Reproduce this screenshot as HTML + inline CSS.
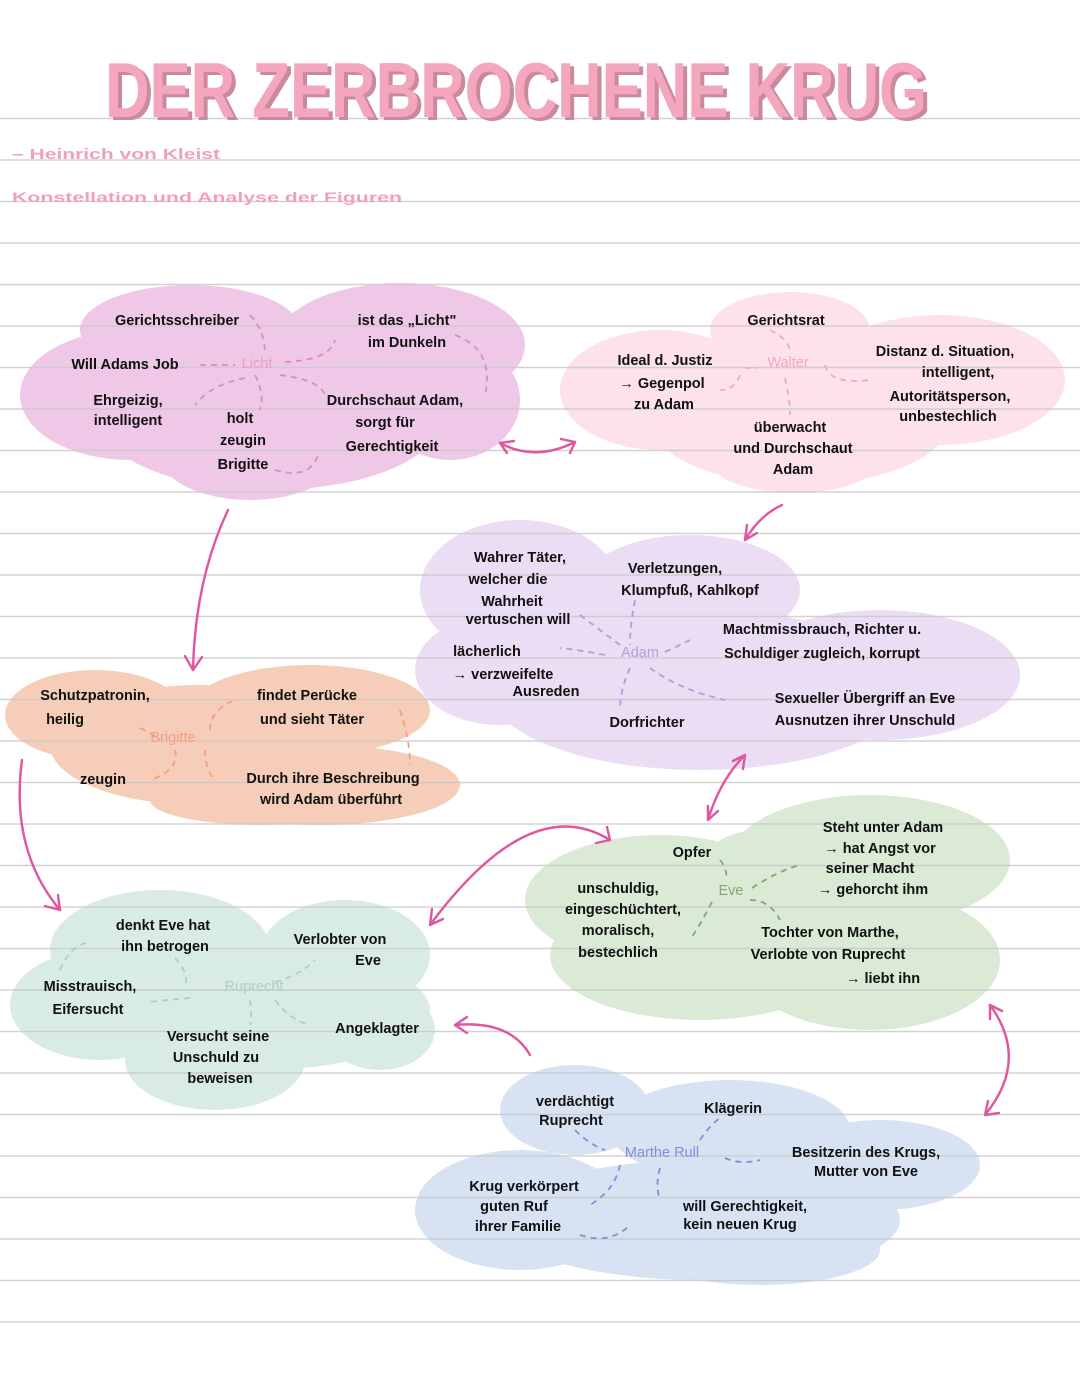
<!DOCTYPE html>
<html><head><meta charset="utf-8"><style>
html,body{margin:0;padding:0;background:#fff}
svg{display:block}
text{font-family:"Liberation Sans",sans-serif;font-size:14.5px;font-weight:bold;fill:#111;text-anchor:middle}
.k{font-weight:bold;font-size:14.5px}
</style></head><body>
<svg width="1080" height="1395" viewBox="0 0 1080 1395" xmlns="http://www.w3.org/2000/svg">
<g fill="#efc8e8">
<ellipse cx="190" cy="330" rx="110" ry="45"/><ellipse cx="400" cy="345" rx="125" ry="62"/>
<ellipse cx="130" cy="395" rx="110" ry="65"/><ellipse cx="270" cy="420" rx="170" ry="70"/>
<ellipse cx="250" cy="455" rx="90" ry="45"/><ellipse cx="450" cy="400" rx="70" ry="60"/>
</g>
<g fill="#fde2ec">
<ellipse cx="790" cy="330" rx="80" ry="38"/><ellipse cx="660" cy="390" rx="100" ry="60"/>
<ellipse cx="940" cy="380" rx="125" ry="65"/><ellipse cx="800" cy="420" rx="150" ry="65"/>
<ellipse cx="795" cy="455" rx="90" ry="38"/>
</g>
<g fill="#ebddf3">
<ellipse cx="520" cy="590" rx="100" ry="70"/><ellipse cx="690" cy="590" rx="110" ry="55"/>
<ellipse cx="500" cy="670" rx="85" ry="55"/><ellipse cx="700" cy="690" rx="210" ry="80"/>
<ellipse cx="880" cy="675" rx="140" ry="65"/><ellipse cx="650" cy="720" rx="110" ry="45"/>
</g>
<g fill="#f6cdb8">
<ellipse cx="95" cy="715" rx="90" ry="45"/><ellipse cx="310" cy="710" rx="120" ry="45"/>
<ellipse cx="200" cy="745" rx="150" ry="60"/><ellipse cx="320" cy="785" rx="140" ry="40"/>
<ellipse cx="260" cy="800" rx="110" ry="25"/>
</g>
<g fill="#d9ece4">
<ellipse cx="160" cy="950" rx="110" ry="60"/><ellipse cx="345" cy="955" rx="85" ry="55"/>
<ellipse cx="100" cy="1005" rx="90" ry="55"/><ellipse cx="260" cy="1010" rx="170" ry="60"/>
<ellipse cx="215" cy="1060" rx="90" ry="50"/><ellipse cx="380" cy="1030" rx="55" ry="40"/>
</g>
<g fill="#dbead5">
<ellipse cx="660" cy="900" rx="135" ry="65"/><ellipse cx="870" cy="860" rx="140" ry="65"/>
<ellipse cx="700" cy="955" rx="150" ry="65"/><ellipse cx="870" cy="960" rx="130" ry="70"/>
<ellipse cx="760" cy="870" rx="60" ry="40"/>
</g>
<g fill="#d7e2f3">
<ellipse cx="575" cy="1110" rx="75" ry="45"/><ellipse cx="730" cy="1130" rx="120" ry="50"/>
<ellipse cx="880" cy="1165" rx="100" ry="45"/><ellipse cx="520" cy="1210" rx="105" ry="60"/>
<ellipse cx="700" cy="1220" rx="200" ry="60"/><ellipse cx="760" cy="1250" rx="120" ry="35"/>
</g>
<g stroke="#c8c8c8" stroke-width="1.6" opacity="0.8">
<line x1="0" y1="118.5" x2="1080" y2="118.5"/><line x1="0" y1="160" x2="1080" y2="160"/>
<line x1="0" y1="201.5" x2="1080" y2="201.5"/><line x1="0" y1="243" x2="1080" y2="243"/>
<line x1="0" y1="284.5" x2="1080" y2="284.5"/><line x1="0" y1="326" x2="1080" y2="326"/>
<line x1="0" y1="367.5" x2="1080" y2="367.5"/><line x1="0" y1="409" x2="1080" y2="409"/>
<line x1="0" y1="450.5" x2="1080" y2="450.5"/><line x1="0" y1="492" x2="1080" y2="492"/>
<line x1="0" y1="533.5" x2="1080" y2="533.5"/><line x1="0" y1="575" x2="1080" y2="575"/>
<line x1="0" y1="616.5" x2="1080" y2="616.5"/><line x1="0" y1="658" x2="1080" y2="658"/>
<line x1="0" y1="699.5" x2="1080" y2="699.5"/><line x1="0" y1="741" x2="1080" y2="741"/>
<line x1="0" y1="782.5" x2="1080" y2="782.5"/><line x1="0" y1="824" x2="1080" y2="824"/>
<line x1="0" y1="865.5" x2="1080" y2="865.5"/><line x1="0" y1="907" x2="1080" y2="907"/>
<line x1="0" y1="948.5" x2="1080" y2="948.5"/><line x1="0" y1="990" x2="1080" y2="990"/>
<line x1="0" y1="1031.5" x2="1080" y2="1031.5"/><line x1="0" y1="1073" x2="1080" y2="1073"/>
<line x1="0" y1="1114.5" x2="1080" y2="1114.5"/><line x1="0" y1="1156" x2="1080" y2="1156"/>
<line x1="0" y1="1197.5" x2="1080" y2="1197.5"/><line x1="0" y1="1239" x2="1080" y2="1239"/>
<line x1="0" y1="1280.5" x2="1080" y2="1280.5"/><line x1="0" y1="1322" x2="1080" y2="1322"/>
</g>
<!-- title -->
<text x="109" y="120" textLength="822" lengthAdjust="spacingAndGlyphs" style="text-anchor:start;font-size:78px;fill:#c98a9e;font-weight:bold">DER ZERBROCHENE KRUG</text>
<text x="105" y="117" textLength="822" lengthAdjust="spacingAndGlyphs" style="text-anchor:start;font-size:78px;fill:#f4a6bd;font-weight:bold">DER ZERBROCHENE KRUG</text>
<text x="12" y="159" textLength="208" lengthAdjust="spacingAndGlyphs" style="text-anchor:start;fill:#f2a0b8;font-size:15px;font-weight:bold">– Heinrich von Kleist</text>
<text x="12" y="202" textLength="390" lengthAdjust="spacingAndGlyphs" style="text-anchor:start;fill:#f2a0b8;font-size:14px;font-weight:bold">Konstellation und Analyse der Figuren</text>
<g fill="none" stroke-width="1.8" stroke-dasharray="6 5">
<path d="M250 315 Q265 330 265 355 M200 365 L235 365 M285 362 Q330 360 335 340 M455 335 Q495 350 485 395 M245 378 Q210 385 195 405 M255 375 Q265 395 260 410 M275 470 Q310 480 318 455 M280 375 Q320 380 325 395" stroke="#d98cc0"/>
<path d="M770 330 Q790 340 790 352 M745 368 L758 368 M825 365 Q830 385 870 380 M740 375 Q735 390 720 390 M785 378 Q790 400 790 415" stroke="#f2a8c4"/>
<path d="M580 615 Q600 630 620 645 M635 600 Q630 625 630 645 M605 655 Q580 650 560 648 M665 652 Q680 645 690 640 M630 668 Q620 690 620 710 M650 668 Q680 690 725 700" stroke="#b89ad8"/>
<path d="M140 728 Q155 735 160 740 M175 750 Q180 770 150 780 M210 730 Q210 710 235 700 M205 750 Q205 770 215 780 M400 710 Q410 740 410 765" stroke="#f0a080"/>
<path d="M720 860 Q728 870 726 880 M752 888 Q780 870 800 865 M750 900 Q770 900 780 920 M712 902 Q700 925 690 940" stroke="#80a870"/>
<path d="M60 970 Q70 945 90 942 M175 958 Q190 975 185 985 M190 998 Q165 1000 150 1002 M275 982 Q300 975 315 960 M250 1000 Q252 1015 250 1025 M275 1000 Q290 1020 310 1025" stroke="#a8d0c4"/>
<path d="M575 1130 Q590 1145 605 1150 M700 1140 Q710 1125 720 1118 M725 1158 Q740 1165 760 1160 M620 1165 Q615 1190 590 1205 M580 1235 Q610 1245 630 1225 M660 1168 Q655 1185 660 1200" stroke="#8090d8"/>
</g>
<g fill="none" stroke="#e0559f" stroke-width="2.4" stroke-linecap="round">
<path d="M500 443 Q535 462 575 442"/><path d="M500 443 l14 -2 M500 443 l7 10"/><path d="M575 442 l-14 -3 M575 442 l-5 11"/>
<path d="M228 510 Q195 580 193 670"/><path d="M193 670 l-8 -14 M193 670 l9 -13"/>
<path d="M782 505 Q760 515 745 540"/><path d="M745 540 l2 -15 M745 540 l12 -7"/>
<path d="M745 755 Q720 780 708 820"/><path d="M745 755 l-2 14 M745 755 l-12 6 M708 820 l0 -14 M708 820 l10 -9"/>
<path d="M22 760 Q10 850 60 910"/><path d="M60 910 l-15 -4 M60 910 l-2 -15"/>
<path d="M610 840 Q530 790 430 925"/><path d="M430 925 l2 -16 M430 925 l13 -6 M610 840 l-3 -13 M610 840 l-14 3"/>
<path d="M530 1055 Q510 1020 455 1025"/><path d="M455 1025 l12 -8 M455 1025 l12 8"/>
<path d="M990 1005 Q1030 1060 985 1115"/><path d="M990 1005 l0 14 M990 1005 l12 6 M985 1115 l3 -14 M985 1115 l14 -2"/>
</g>
<text x="177" y="325" class="k">Gerichtsschreiber</text>
<text x="407" y="325" class="k">ist das „Licht"</text><text x="407" y="347" class="k">im Dunkeln</text>
<text x="125" y="369" class="k">Will Adams Job</text>
<text x="257" y="368" class="k" style="fill:#e8a0c8;font-weight:normal">Licht</text>
<text x="128" y="405" class="k">Ehrgeizig,</text><text x="128" y="425" class="k">intelligent</text>
<text x="240" y="423" class="k">holt</text><text x="243" y="445" class="k">zeugin</text><text x="243" y="469" class="k">Brigitte</text>
<text x="395" y="405" class="k">Durchschaut Adam,</text><text x="385" y="427" class="k">sorgt für</text><text x="392" y="451" class="k">Gerechtigkeit</text>
<text x="786" y="325" class="k">Gerichtsrat</text>
<text x="665" y="365" class="k">Ideal d. Justiz</text>
<text x="788" y="367" class="k" style="fill:#f2a8c4;font-weight:normal">Walter</text>
<text x="662" y="388" class="k">→ Gegenpol</text><text x="664" y="409" class="k">zu Adam</text>
<text x="945" y="356" class="k">Distanz d. Situation,</text><text x="958" y="377" class="k">intelligent,</text>
<text x="950" y="401" class="k">Autoritätsperson,</text><text x="948" y="421" class="k">unbestechlich</text>
<text x="790" y="432" class="k">überwacht</text><text x="793" y="453" class="k">und Durchschaut</text><text x="793" y="474" class="k">Adam</text>
<text x="520" y="562" class="k">Wahrer Täter,</text><text x="508" y="584" class="k">welcher die</text>
<text x="512" y="606" class="k">Wahrheit</text><text x="518" y="624" class="k">vertuschen will</text>
<text x="675" y="573" class="k">Verletzungen,</text><text x="690" y="595" class="k">Klumpfuß, Kahlkopf</text>
<text x="822" y="634" class="k">Machtmissbrauch, Richter u.</text><text x="822" y="658" class="k">Schuldiger zugleich, korrupt</text>
<text x="487" y="656" class="k">lächerlich</text><text x="503" y="679" class="k">→ verzweifelte</text><text x="546" y="696" class="k">Ausreden</text>
<text x="640" y="657" class="k" style="fill:#b89ad8;font-weight:normal">Adam</text>
<text x="647" y="727" class="k">Dorfrichter</text>
<text x="865" y="703" class="k">Sexueller Übergriff an Eve</text><text x="865" y="725" class="k">Ausnutzen ihrer Unschuld</text>
<text x="95" y="700" class="k">Schutzpatronin,</text><text x="65" y="724" class="k">heilig</text>
<text x="173" y="742" class="k" style="fill:#f0a080;font-weight:normal">Brigitte</text>
<text x="307" y="700" class="k">findet Perücke</text><text x="312" y="724" class="k">und sieht Täter</text>
<text x="103" y="784" class="k">zeugin</text>
<text x="333" y="783" class="k">Durch ihre Beschreibung</text><text x="331" y="804" class="k">wird Adam überführt</text>
<text x="883" y="832" class="k">Steht unter Adam</text><text x="880" y="853" class="k">→ hat Angst vor</text>
<text x="870" y="873" class="k">seiner Macht</text><text x="873" y="894" class="k">→ gehorcht ihm</text>
<text x="692" y="857" class="k">Opfer</text>
<text x="731" y="895" class="k" style="fill:#80a870;font-weight:normal">Eve</text>
<text x="618" y="893" class="k">unschuldig,</text><text x="623" y="914" class="k">eingeschüchtert,</text>
<text x="618" y="935" class="k">moralisch,</text><text x="618" y="957" class="k">bestechlich</text>
<text x="830" y="937" class="k">Tochter von Marthe,</text><text x="828" y="959" class="k">Verlobte von Ruprecht</text>
<text x="883" y="983" class="k">→ liebt ihn</text>
<text x="163" y="930" class="k">denkt Eve hat</text><text x="165" y="951" class="k">ihn betrogen</text>
<text x="340" y="944" class="k">Verlobter von</text><text x="368" y="965" class="k">Eve</text>
<text x="254" y="991" class="k" style="fill:#a8d0c4;font-weight:normal">Ruprecht</text>
<text x="90" y="991" class="k">Misstrauisch,</text><text x="88" y="1014" class="k">Eifersucht</text>
<text x="377" y="1033" class="k">Angeklagter</text>
<text x="218" y="1041" class="k">Versucht seine</text><text x="216" y="1062" class="k">Unschuld zu</text><text x="220" y="1083" class="k">beweisen</text>
<text x="575" y="1106" class="k">verdächtigt</text><text x="571" y="1125" class="k">Ruprecht</text>
<text x="733" y="1113" class="k">Klägerin</text>
<text x="662" y="1157" class="k" style="fill:#8090d8;font-weight:normal">Marthe Rull</text>
<text x="866" y="1157" class="k">Besitzerin des Krugs,</text><text x="866" y="1176" class="k">Mutter von Eve</text>
<text x="524" y="1191" class="k">Krug verkörpert</text><text x="514" y="1211" class="k">guten Ruf</text><text x="518" y="1231" class="k">ihrer Familie</text>
<text x="745" y="1211" class="k">will Gerechtigkeit,</text><text x="740" y="1229" class="k">kein neuen Krug</text>
</svg>
</body></html>
